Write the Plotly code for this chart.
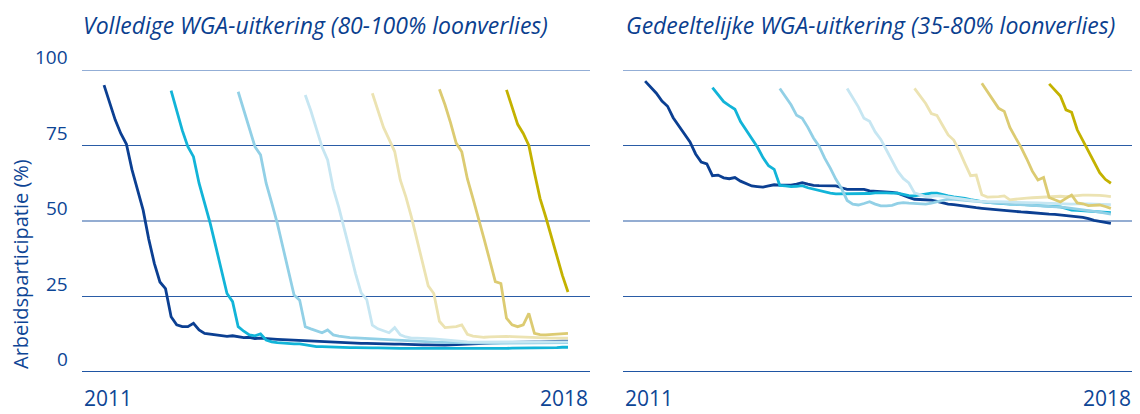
import plotly.graph_objects as go

# ---------------- data (monthly, each cohort starts in January of its year) ----------------
cohort_years = ["2011", "2012", "2013", "2014", "2015", "2016", "2017"]
cohort_colors = ["#0b3f92", "#12b4d8", "#92d0e6", "#c6e6f2", "#ece3b2", "#dccb72", "#c4b200"]
y_ticks = [0, 25, 50, 75, 100]
x_labels = ["2011", "2018"]

# Volledige WGA-uitkering (80-100% loonverlies)
vol_2011 = [95.0, 89.0, 83.5, 79.0, 75.5, 67.0, 60.0, 53.6, 44.0, 36.0, 29.8, 27.6,
            18.3, 15.6, 15.0, 15.0, 16.1, 13.9, 12.8, 12.6, 12.4, 12.2, 11.8, 12.0,
            11.7, 11.4, 11.5, 11.1, 11.2, 11.0, 10.9, 10.8, 10.7, 10.6, 10.5, 10.4,
            10.3, 10.2, 10.1, 10.0, 9.9, 9.8, 9.7, 9.7, 9.6, 9.6, 9.5, 9.5,
            9.4, 9.4, 9.3, 9.3, 9.2, 9.2, 9.1, 9.1, 9.0, 9.0, 9.0, 8.9,
            8.9, 8.9, 9.0, 9.1, 9.1, 9.2, 9.3, 9.4, 9.5, 9.6, 9.7, 9.7,
            9.8, 9.8, 9.9, 9.9, 10.0, 10.0, 10.0, 10.1, 10.1, 10.1, 10.2, 10.2]
vol_2012 = [93.2, 86.5, 80.0, 74.6, 71.3, 62.5, 56.0, 49.2, 41.5, 33.8, 26.0, 23.3,
            15.0, 13.5, 12.3, 12.0, 12.6, 10.6, 10.0, 9.7, 9.5, 9.4, 9.3, 9.3,
            9.0, 8.6, 8.4, 8.4, 8.3, 8.3, 8.2, 8.2, 8.1, 8.1, 8.0, 8.0,
            8.0, 8.0, 7.9, 7.9, 7.9, 7.8, 7.8, 7.8, 7.8, 7.7, 7.7, 7.7,
            7.8, 7.8, 7.8, 7.7, 7.7, 7.7, 7.6, 7.6, 7.7, 7.7, 7.8, 7.8,
            7.8, 7.9, 7.9, 7.9, 8.0, 8.0, 8.0, 8.1, 8.1, 8.1, 8.2, 8.2]
vol_2013 = [92.8, 87.0, 81.0, 74.6, 71.9, 62.5, 56.0, 49.2, 41.3, 33.4, 25.5, 23.8,
            15.0, 14.3, 13.6, 13.0, 13.9, 12.3, 11.9, 11.6, 11.4, 11.3, 11.2, 11.0,
            10.8, 10.7, 10.6, 10.5, 10.4, 10.3, 10.2, 10.1, 10.0, 10.0, 9.9, 9.9,
            9.8, 9.8, 9.8, 9.7, 9.7, 9.7, 9.6, 9.6, 9.6, 9.6, 9.5, 9.5,
            9.5, 9.5, 9.5, 9.5, 9.5, 9.6, 9.6, 9.6, 9.6, 9.7, 9.7, 9.7]
vol_2014 = [91.7, 86.5, 80.5, 74.5, 70.2, 60.8, 54.5, 47.6, 40.0, 32.6, 26.2, 24.0,
            15.5, 14.3, 13.6, 13.0, 14.7, 12.3, 11.6, 11.2, 11.2, 11.2, 11.1, 11.0,
            10.8, 10.6, 10.4, 10.2, 10.1, 10.0, 9.9, 9.9, 9.8, 9.8, 9.8, 9.8,
            9.8, 9.8, 9.9, 9.9, 9.9, 9.9, 9.9, 10.0, 10.0, 10.0, 10.0, 10.0]
vol_2015 = [92.3, 86.5, 81.0, 77.0, 73.0, 63.6, 58.0, 51.3, 43.6, 36.0, 28.5, 26.0,
            16.8, 14.7, 14.8, 15.0, 15.6, 12.5, 11.9, 11.6, 11.5, 11.6, 11.7, 11.9,
            11.8, 11.7, 11.6, 11.7, 11.5, 11.4, 11.3, 11.3, 11.2, 11.2, 11.2, 11.2]
vol_2016 = [93.6, 88.5, 82.5, 75.8, 72.9, 64.0, 57.5, 51.0, 44.0, 37.0, 29.9, 29.3,
            17.8, 15.6, 15.0, 15.6, 19.4, 12.8, 12.4, 12.3, 12.4, 12.5, 12.7, 12.8]
vol_2017 = [93.4, 87.5, 82.0, 79.0, 75.0, 66.0, 57.5, 51.5, 45.0, 38.5, 32.0, 26.5]

# Gedeeltelijke WGA-uitkering (35-80% loonverlies)
ged_2011 = [96.3, 94.3, 92.3, 89.7, 88.0, 84.2, 81.5, 79.2, 76.2, 72.2, 69.5, 68.9,
            65.0, 65.2, 64.3, 64.0, 64.4, 63.2, 62.3, 61.6, 61.4, 61.2, 61.6, 62.0,
            61.9, 61.9, 61.9, 62.2, 62.7, 62.2, 61.8, 61.7, 61.7, 61.6, 61.6, 61.0,
            60.5, 60.5, 60.5, 60.5, 60.0, 59.9, 59.8, 59.6, 59.5, 59.2, 58.4, 57.8,
            57.2, 57.1, 57.0, 56.9, 56.5, 56.0, 55.6, 55.4, 55.1, 54.9, 54.6, 54.4,
            54.2, 54.0, 53.9, 53.7, 53.5, 53.3, 53.1, 53.0, 52.9, 52.7, 52.6, 52.5,
            52.3, 52.2, 52.0, 51.8, 51.6, 51.5, 51.2, 50.8, 50.2, 49.9, 49.5, 49.2]
ged_2012 = [94.2, 91.8, 89.5, 88.2, 87.0, 82.9, 80.0, 77.5, 74.5, 71.0, 68.3, 67.1,
            61.8, 61.6, 61.4, 61.5, 61.7, 61.0, 60.5, 60.0, 59.5, 59.2, 59.0, 59.0,
            59.0, 59.0, 59.0, 59.0, 59.1, 59.3, 59.4, 59.3, 59.2, 59.2, 58.8, 58.4,
            58.3, 58.6, 59.0, 59.2, 59.2, 58.7, 58.3, 58.0, 57.8, 57.5, 57.1, 56.7,
            56.4, 56.2, 56.0, 55.8, 55.7, 55.6, 55.6, 55.5, 55.4, 55.3, 55.3, 55.2,
            55.0, 54.8, 54.7, 54.2, 53.6, 53.5, 53.4, 53.3, 53.1, 53.0, 52.8, 52.8]
ged_2013 = [93.9, 91.0, 88.5, 85.0, 84.0, 81.0, 77.5, 74.8, 70.8, 67.5, 63.8, 60.8,
            56.8, 55.6, 55.3, 55.8, 56.4, 55.6, 55.0, 55.0, 55.2, 55.8, 56.1, 55.9,
            55.8, 55.7, 55.6, 55.9, 56.3, 56.8, 57.2, 57.2, 57.0, 56.8, 56.6, 56.5,
            56.3, 56.2, 56.0, 55.9, 55.8, 55.7, 55.6, 55.5, 55.3, 55.2, 55.1, 55.0,
            54.9, 54.8, 54.6, 54.4, 54.2, 54.0, 53.8, 53.5, 53.2, 52.9, 52.6, 52.3]
ged_2014 = [93.9, 90.8, 87.8, 84.0, 83.0, 79.5, 77.0, 73.5, 70.0, 66.5, 64.1, 62.6,
            59.3, 58.6, 58.1, 58.2, 58.4, 58.2, 57.9, 57.6, 57.3, 57.0, 56.8, 56.6,
            56.5, 56.5, 56.4, 56.4, 56.3, 56.3, 56.2, 56.2, 56.1, 56.0, 56.0, 55.9,
            55.8, 55.8, 55.7, 55.7, 55.6, 55.7, 55.8, 55.7, 55.6, 55.5, 55.5, 55.4]
ged_2015 = [93.9, 91.2, 88.9, 85.6, 85.0, 81.7, 78.5, 76.8, 73.2, 69.0, 65.0, 65.2,
            58.7, 57.9, 57.9, 58.1, 58.3, 57.0, 57.2, 57.5, 57.6, 57.7, 57.8, 57.9,
            58.1, 58.3, 58.2, 58.1, 58.3, 58.5, 58.6, 58.6, 58.6, 58.5, 58.3, 58.1]
ged_2016 = [95.6, 92.7, 90.0, 87.3, 86.3, 81.0, 77.6, 74.4, 70.6, 66.5, 63.6, 64.4,
            57.8, 57.0, 56.3, 57.5, 58.6, 56.0, 55.7, 55.1, 55.2, 55.3, 54.8, 54.2]
ged_2017 = [95.4, 93.3, 91.4, 86.8, 86.0, 80.2, 76.6, 73.0, 69.3, 66.0, 63.8, 62.5]

volledig = [vol_2011, vol_2012, vol_2013, vol_2014, vol_2015, vol_2016, vol_2017]
gedeeltelijk = [ged_2011, ged_2012, ged_2013, ged_2014, ged_2015, ged_2016, ged_2017]

# ---------------- figure ----------------
# the page body has an 8px margin, so the figure is drawn 8px in from the window corner
OFF = 8
W, H = 1140 - OFF, 414 - OFF
TXT = "#0d4595"
FONT = "Open Sans"


def px(xp):
    return (xp - OFF) / W


def py(yp):
    return 1 - (yp - OFF) / H


fig = go.Figure()


def add_panel(series, xa, ya):
    for k, vals in enumerate(series):
        start = 12 * k
        fig.add_trace(go.Scatter(
            x=list(range(start, start + len(vals))), y=vals,
            mode="lines", line=dict(color=cohort_colors[k], width=2.8),
            xaxis=xa, yaxis=ya, showlegend=False, hoverinfo="skip",
            name=cohort_years[k]))


add_panel(volledig, "x", "y")
add_panel(gedeeltelijk, "x2", "y2")

xrange = [-3.94, 86.94]
ydom = [py(372), py(70)]
common_x = dict(range=xrange, showgrid=False, zeroline=False, showticklabels=False,
                showline=False, ticks="")
common_y = dict(range=[0, 100], showgrid=False, zeroline=False, showticklabels=False,
                showline=False, ticks="", domain=ydom)

fig.update_layout(
    width=W, height=H,
    margin=dict(l=0, r=0, t=0, b=0),
    paper_bgcolor="white", plot_bgcolor="white",
    font=dict(family=FONT, color=TXT),
    xaxis=dict(domain=[px(82), px(590)], **common_x),
    yaxis=dict(**common_y),
    xaxis2=dict(domain=[px(623), px(1133)], anchor="y2", **common_x),
    yaxis2=dict(anchor="x2", **common_y),
)

shapes = []
for xr, yr in (("x domain", "y"), ("x2 domain", "y2")):
    for v in y_ticks:
        if v == 100:
            col, w = "#6f93c9", 1.6
        elif v == 0:
            col, w = "#1f55a3", 2.2
        else:
            col, w = "#2a5ca6", 1.1
        shapes.append(dict(type="line", xref=xr, yref=yr, x0=0, x1=1, y0=v, y1=v,
                           line=dict(color=col, width=w), layer="below"))
fig.update_layout(shapes=shapes)

ann = []
# y tick labels (left panel only)
for v in y_ticks:
    ann.append(dict(x=px(70), xref="paper", xanchor="right", y=v, yref="y",
                    yanchor="bottom", yshift=-2, text=str(v), showarrow=False,
                    font=dict(size=19, color=TXT, family=FONT)))
# x labels
for xr in ("x domain", "x2 domain"):
    ann.append(dict(x=0, xref=xr, xanchor="left", y=py(398), yref="paper",
                    yanchor="middle", text=x_labels[0], showarrow=False,
                    font=dict(size=21, color=TXT, family=FONT)))
    ann.append(dict(x=1, xref=xr, xanchor="right", y=py(398), yref="paper",
                    yanchor="middle", text=x_labels[1], showarrow=False,
                    font=dict(size=21, color=TXT, family=FONT)))
# titles
ann.append(dict(x=px(81), xref="paper", xanchor="left", y=py(25), yref="paper",
                yanchor="middle", text="<i>Volledige WGA-uitkering (80-100% loonverlies)</i>",
                showarrow=False, font=dict(size=23, color="#0b3f8f", family=FONT)))
ann.append(dict(x=px(624), xref="paper", xanchor="left", y=py(25), yref="paper",
                yanchor="middle", text="<i>Gedeeltelijke WGA-uitkering (35-80% loonverlies)</i>",
                showarrow=False, font=dict(size=23, color="#0b3f8f", family=FONT)))
# y axis title
ann.append(dict(x=px(20), xref="paper", xanchor="center", y=py(264), yref="paper",
                yanchor="middle", text="Arbeidsparticipatie (%)", textangle=-90,
                showarrow=False, font=dict(size=20, color=TXT, family=FONT)))
fig.update_layout(annotations=ann)

fig.write_html("out.html")
